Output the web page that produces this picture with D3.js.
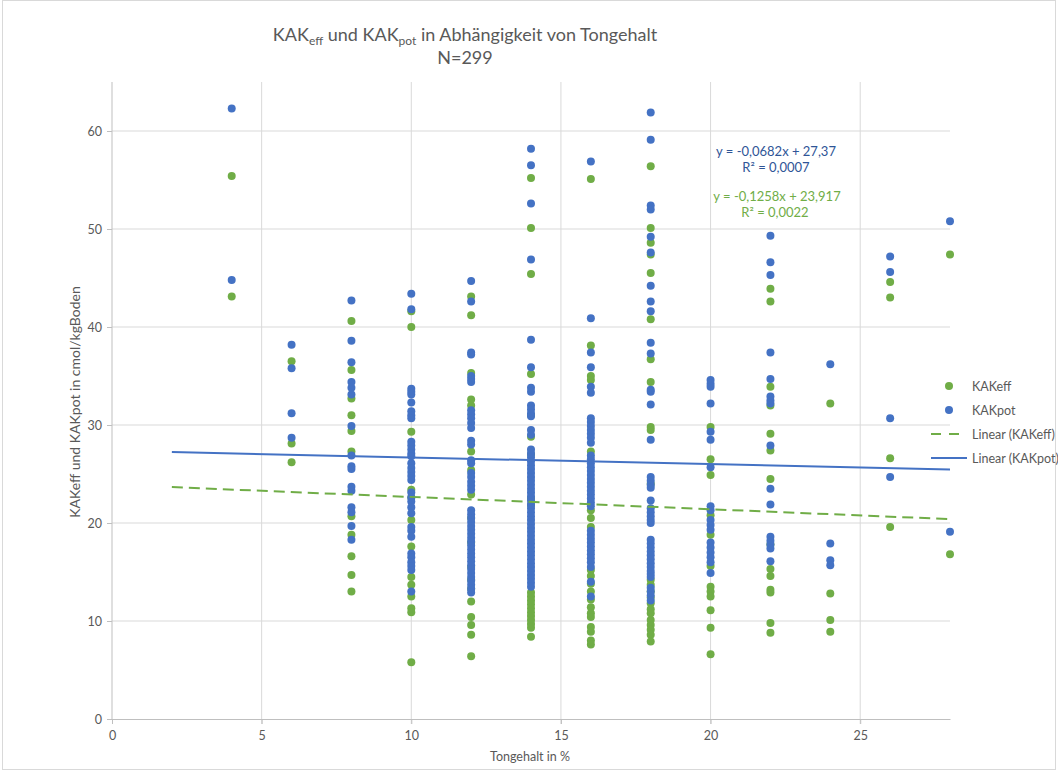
<!DOCTYPE html>
<html>
<head>
<meta charset="utf-8">
<script src="https://cdn.jsdelivr.net/npm/d3@7"></script>
<style>
  body { margin: 0; background: #fff; }
  svg text { font-family: Lato, "Open Sans", sans-serif; fill: #595959; }
</style>
</head>
<body>
<svg id="chart" width="1058" height="772"></svg>
<script>
const tonStufen = [4, 6, 8, 10, 12, 14, 16, 18, 20, 22, 24, 26, 28];

const kakEffWerte = [
  [55.4, 43.1],
  [36.5, 28.1, 26.2],
  [40.6, 35.6, 32.7, 31.0, 29.4, 27.3, 20.7, 18.8, 16.6, 14.7, 13.0],
  [41.6, 40.0, 29.3, 23.4, 22.6, 20.3, 17.6, 14.5, 13.7, 12.5, 11.3, 10.9, 5.8],
  [43.1, 41.2, 35.3, 32.6, 32.0, 27.3, 25.4, 22.9, 20.5, 18.0, 15.5, 14.2, 13.3, 12.0, 10.4, 9.6, 8.6, 6.4],
  [55.2, 50.1, 45.4, 35.2, 31.0, 28.8, 27.0, 22.5, 21.8, 12.9, 12.5, 12.1, 11.7, 11.3, 10.9, 10.5, 10.1, 9.7, 9.3, 8.4],
  [55.1, 38.1, 35.0, 34.6, 27.3, 21.3, 20.5, 19.6, 15.2, 14.6, 13.8, 13.0, 12.2, 11.4, 10.8, 10.4, 9.4, 8.9, 8.0, 7.6],
  [56.4, 50.1, 48.6, 47.4, 45.5, 40.8, 36.7, 34.4, 29.8, 29.5, 24.0, 14.2, 13.7, 13.0, 12.4, 11.8, 11.2, 10.8, 10.1, 9.6, 9.1, 8.6, 7.9],
  [29.8, 26.5, 24.9, 20.8, 18.8, 15.6, 13.5, 13.0, 12.5, 11.1, 9.3, 6.6],
  [43.9, 42.6, 33.9, 32.0, 29.1, 27.4, 24.5, 17.8, 15.3, 14.6, 13.2, 12.9, 9.8, 8.8],
  [32.2, 12.8, 10.1, 8.9],
  [44.6, 43.0, 26.6, 19.6],
  [47.4, 16.8]
];

const kakPotWerte = [
  [62.3, 44.8],
  [38.2, 35.8, 31.2, 28.7],
  [42.7, 38.6, 36.4, 34.4, 33.8, 33.1, 29.9, 26.9, 25.8, 25.5, 23.7, 23.3, 21.6, 21.1, 19.7, 18.3],
  [43.4, 41.8, 33.7, 33.4, 33.1, 32.3, 31.4, 31.0, 30.7, 28.3, 27.9, 27.5, 27.1, 26.8, 26.1, 25.6, 25.2, 24.8, 24.4, 23.1, 22.6, 22.2, 21.6, 21.0, 19.6, 19.2, 18.6, 16.9, 16.5, 16.0, 15.6, 15.2, 13.0],
  [44.7, 42.6, 37.4, 37.2, 35.0, 34.7, 34.4, 31.5, 31.1, 30.7, 30.2, 29.7, 28.4, 28.0, 26.4, 26.1, 25.1, 24.7, 24.2, 23.8, 23.4, 21.3, 20.9, 20.5, 20.1, 19.7, 19.3, 18.9, 18.5, 18.1, 17.7, 17.3, 16.9, 16.5, 16.1, 15.7, 15.3, 14.9, 14.5, 14.1, 13.7, 13.3, 12.9],
  [58.2, 56.5, 52.6, 46.9, 38.7, 35.9, 33.8, 33.4, 32.0, 31.6, 31.2, 30.9, 29.5, 29.0, 27.5, 27.1, 26.7, 26.3, 25.9, 25.5, 25.1, 24.7, 24.3, 23.9, 23.5, 23.1, 22.7, 22.3, 21.9, 21.5, 21.1, 20.7, 20.3, 19.9, 19.5, 19.1, 18.7, 18.3, 17.9, 17.5, 17.1, 16.7, 16.3, 15.9, 15.5, 15.1, 14.7, 14.3, 13.9, 13.5],
  [56.9, 40.9, 37.4, 35.9, 33.9, 33.3, 30.7, 30.3, 29.9, 29.5, 29.1, 28.7, 28.2, 26.9, 26.5, 26.1, 25.7, 25.3, 24.9, 24.5, 24.1, 23.7, 23.3, 22.9, 22.5, 22.1, 21.7, 19.2, 18.8, 18.4, 18.0, 17.6, 17.2, 16.8, 16.4, 16.0, 15.5, 14.0, 12.5],
  [61.9, 59.1, 52.4, 52.0, 49.2, 47.6, 44.2, 42.6, 41.6, 38.4, 37.3, 33.6, 33.4, 32.1, 28.5, 24.7, 24.3, 23.9, 23.6, 22.3, 21.5, 21.1, 20.7, 20.3, 20.0, 18.3, 17.9, 17.5, 17.1, 16.7, 16.3, 15.9, 15.5, 15.1, 14.8, 14.5, 13.4, 13.0, 12.6, 12.1],
  [34.6, 34.2, 33.9, 32.2, 29.3, 28.5, 25.7, 21.7, 21.3, 20.3, 19.8, 19.3, 18.0, 17.5, 17.0, 16.5, 16.0, 14.9],
  [49.3, 46.6, 45.3, 37.4, 34.7, 32.9, 32.5, 32.2, 27.9, 23.5, 21.9, 18.6, 18.2, 17.8, 17.4, 16.1],
  [36.2, 17.9, 16.2, 15.7],
  [47.2, 45.6, 30.7, 24.7],
  [50.8, 19.1]
];

// Trendlinien laut Excel-Gleichung: [Steigung, Achsenabschnitt]
const trendEff = [-0.1258, 23.917];
const trendPot = [-0.0682, 27.37];
const trendBereich = [2, 28];

const xTicks = [0, 5, 10, 15, 20, 25];
const yTicks = [0, 10, 20, 30, 40, 50, 60];

const gruen = "#70AD47";
const blau = "#4472C4";

const svg = d3.select("#chart");

// Rahmen um das Diagramm
svg.append("rect")
  .attr("x", 2.5).attr("y", 0.5)
  .attr("width", 1053).attr("height", 769)
  .attr("fill", "none").attr("stroke", "#d9d9d9");

const x = d3.scaleLinear().domain([0, 28]).range([112, 950]);
const y = d3.scaleLinear().domain([0, 65]).range([719, 82]);

// Gitternetz
svg.append("g").selectAll("line")
  .data(yTicks.filter(d => d > 0))
  .join("line")
  .attr("x1", x(0)).attr("x2", x(28))
  .attr("y1", d => y(d)).attr("y2", d => y(d))
  .attr("stroke", "#d9d9d9").attr("stroke-width", 1);

svg.append("g").selectAll("line")
  .data(xTicks.filter(d => d > 0))
  .join("line")
  .attr("x1", d => x(d)).attr("x2", d => x(d))
  .attr("y1", y(65)).attr("y2", y(0) + 5)
  .attr("stroke", "#d9d9d9").attr("stroke-width", 1);

// Achsen
const xAxis = svg.append("g")
  .attr("transform", `translate(0,${y(0)})`)
  .call(d3.axisBottom(x).tickValues(xTicks).tickSize(5).tickPadding(7).tickSizeOuter(0));
const yAxis = svg.append("g")
  .attr("transform", `translate(${x(0)},0)`)
  .call(d3.axisLeft(y).tickValues(yTicks).tickSize(5).tickPadding(5).tickSizeOuter(0));

[xAxis, yAxis].forEach(a => {
  a.select(".domain").attr("stroke", "#bfbfbf");
  a.selectAll(".tick line").attr("stroke", "#bfbfbf");
  a.selectAll(".tick text").attr("font-size", 12.5).attr("fill", "#595959")
    .attr("font-family", "Lato, sans-serif");
});
yAxis.select(".domain").attr("d", `M0,${y(65)}V${y(0)}`);

// Punkte: zuerst KAKeff, dann KAKpot darüber
function punkte(werte) {
  return tonStufen.flatMap((t, i) => werte[i].map(v => ({ x: t, v })));
}

svg.append("g").selectAll("circle")
  .data(punkte(kakEffWerte))
  .join("circle")
  .attr("cx", d => x(d.x)).attr("cy", d => y(d.v))
  .attr("r", 4).attr("fill", gruen);

svg.append("g").selectAll("circle")
  .data(punkte(kakPotWerte))
  .join("circle")
  .attr("cx", d => x(d.x)).attr("cy", d => y(d.v))
  .attr("r", 4).attr("fill", blau);

// Lineare Trendlinien
const linie = d3.line().x(d => x(d[0])).y(d => y(d[1]));
function trend(k) {
  return trendBereich.map(t => [t, k[0] * t + k[1]]);
}

svg.append("path")
  .attr("d", linie(trend(trendEff)))
  .attr("fill", "none").attr("stroke", gruen)
  .attr("stroke-width", 2).attr("stroke-dasharray", "11,6");

svg.append("path")
  .attr("d", linie(trend(trendPot)))
  .attr("fill", "none").attr("stroke", blau)
  .attr("stroke-width", 2);

// Gleichungen
const gl = svg.append("g").attr("text-anchor", "middle").attr("font-size", 13);
gl.append("text").attr("x", 776).attr("y", 156).style("fill", "#2F5597").text("y = -0,0682x + 27,37");
gl.append("text").attr("x", 776).attr("y", 172).style("fill", "#2F5597").text("R² = 0,0007");
gl.append("text").attr("x", 777).attr("y", 201).style("fill", gruen).text("y = -0,1258x + 23,917");
gl.append("text").attr("x", 775).attr("y", 217).style("fill", gruen).text("R² = 0,0022");

// Titel
const titel = svg.append("text")
  .attr("x", 465).attr("y", 41)
  .attr("text-anchor", "middle").attr("font-size", 18);
titel.append("tspan").text("KAK");
titel.append("tspan").attr("font-size", 12).attr("dy", 4).text("eff");
titel.append("tspan").attr("dy", -4).text(" und KAK");
titel.append("tspan").attr("font-size", 12).attr("dy", 4).text("pot");
titel.append("tspan").attr("dy", -4).text(" in Abhängigkeit von Tongehalt");

svg.append("text")
  .attr("x", 465).attr("y", 64)
  .attr("text-anchor", "middle").attr("font-size", 18)
  .text("N=299");

// Achsentitel
svg.append("text")
  .attr("x", 530).attr("y", 761)
  .attr("text-anchor", "middle").attr("font-size", 12.5)
  .text("Tongehalt in %");

svg.append("text")
  .attr("transform", "translate(80,402) rotate(-90)")
  .attr("text-anchor", "middle").attr("font-size", 14)
  .text("KAKeff und KAKpot in cmol/kgBoden");

// Legende
const legende = [
  { name: "KAKeff", typ: "punkt", farbe: gruen },
  { name: "KAKpot", typ: "punkt", farbe: blau },
  { name: "Linear (KAKeff)", typ: "strich", farbe: gruen },
  { name: "Linear (KAKpot)", typ: "linie", farbe: blau }
];

const leg = svg.append("g").selectAll("g")
  .data(legende)
  .join("g")
  .attr("transform", (d, i) => `translate(0,${386 + i * 24})`);

leg.filter(d => d.typ === "punkt").append("circle")
  .attr("cx", 949).attr("cy", 0).attr("r", 4)
  .attr("fill", d => d.farbe);

leg.filter(d => d.typ !== "punkt").append("line")
  .attr("x1", 931).attr("x2", 967).attr("y1", 0).attr("y2", 0)
  .attr("stroke", d => d.farbe).attr("stroke-width", 2)
  .attr("stroke-dasharray", d => d.typ === "strich" ? "10,8" : null);

leg.append("text")
  .attr("x", 972).attr("y", 4.5).attr("font-size", 12.5)
  .text(d => d.name);
</script>
</body>
</html>
